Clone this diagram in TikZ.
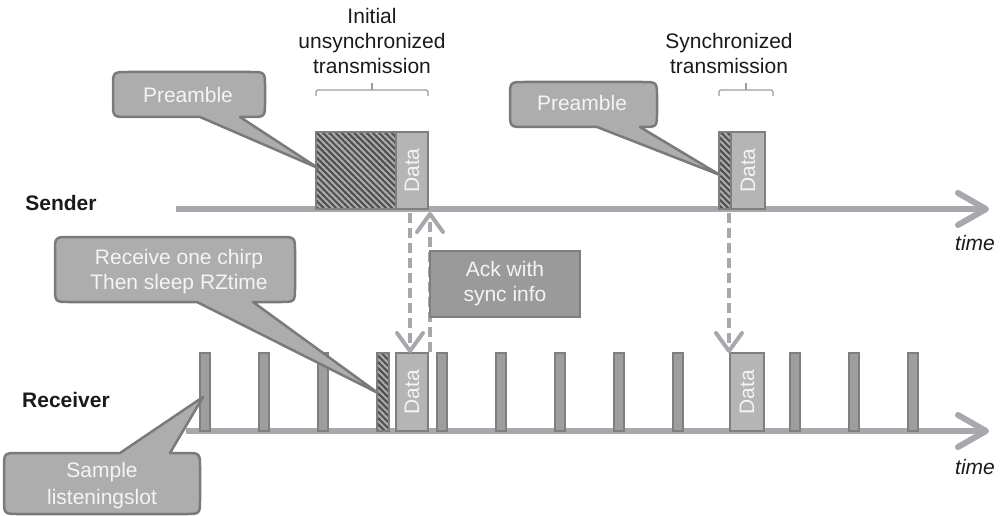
\documentclass[tikz,border=0pt]{standalone}
\usepackage{fontspec}
\setmainfont{Liberation Sans}
\usetikzlibrary{arrows.meta,patterns.meta,calc}

\definecolor{axisgray}{HTML}{A6A8AB}
\definecolor{boxborder}{HTML}{7F7F7F}
\definecolor{datafill}{HTML}{B5B5B5}
\definecolor{slotfill}{HTML}{9E9E9E}
\definecolor{callfill}{HTML}{ADADAD}
\definecolor{callborder}{HTML}{7A7A7A}
\definecolor{ackfill}{HTML}{9A9A9A}
\definecolor{hatchbg}{HTML}{505050}
\definecolor{hatchline}{HTML}{ADADAD}
\definecolor{txtwhite}{HTML}{F4F4F4}
\definecolor{bracegray}{HTML}{9C9C9C}
\definecolor{txtdark}{HTML}{1A1A1A}

% callout with pointer on the bottom edge: x1 y1 x2 y2 base1 base2 tipx tipy
\newcommand\mybubbleB[8]{%
  \draw[calloutshape] ({(#1+#3)/2},#2) -- ({#3-15},#2) .. controls (#3,#2) .. (#3,{#2+15})
    -- (#3,{#4-15}) .. controls (#3,#4) .. ({#3-15},#4) -- (#6,#4) -- (#7,#8) -- (#5,#4)
    -- ({#1+15},#4) .. controls (#1,#4) .. (#1,{#4-15}) -- (#1,{#2+15})
    .. controls (#1,#2) .. ({#1+15},#2) -- cycle;}
% callout with pointer on the top edge
\newcommand\mybubbleT[8]{%
  \draw[calloutshape] ({(#1+#3)/2},#4) -- ({#1+15},#4) .. controls (#1,#4) .. (#1,{#4-15})
    -- (#1,{#2+15}) .. controls (#1,#2) .. ({#1+15},#2) -- (#5,#2) -- (#7,#8) -- (#6,#2)
    -- ({#3-15},#2) .. controls (#3,#2) .. (#3,{#2+15}) -- (#3,{#4-15})
    .. controls (#3,#4) .. ({#3-15},#4) -- cycle;}

\begin{document}
\begin{tikzpicture}[x=1pt,y=-1pt,
  every node/.style={font=\fontsize{21}{25}\selectfont, inner sep=0pt, outer sep=0pt},
  axisline/.style={draw=axisgray, line width=6pt,
    -{Straight Barb[length=28pt,width=32pt,round]}},
  dasharrow/.style={draw=axisgray, line width=4pt, dash pattern=on 10pt off 5pt,
    -{Straight Barb[length=18pt,width=26pt,round]}},
  box/.style={draw=boxborder, line width=2pt, anchor=north west, minimum height=77pt},
  databox/.style={box, fill=datafill},
  hatchbox/.style={box, preaction={fill=hatchbg},
    pattern={Lines[angle=-45,distance=4.4pt,line width=2pt]}, pattern color=hatchline},
  slot/.style={draw=boxborder, line width=2pt, fill=slotfill, anchor=north west,
    minimum width=10pt, minimum height=78pt},
  datalbl/.style={rotate=90, text=txtwhite},
  calloutshape/.style={draw=callborder, fill=callfill, line width=2.5pt, line join=round},
  callouttext/.style={text=txtwhite, align=center},
  rowlabel/.style={text=txtdark, font=\fontsize{21}{25}\selectfont\bfseries},
  timelabel/.style={text=txtdark, font=\fontsize{21}{25}\selectfont\itshape},
  headtext/.style={text=txtdark, align=center, font=\fontsize{21}{25}\selectfont},
  bracestyle/.style={draw=bracegray, line width=1.2pt, rounded corners=2pt},
]
\useasboundingbox (0,0) rectangle (1006,516);

% axes
\coordinate (sa0) at (176,209);
\coordinate (sa1) at (989,209);
\coordinate (ra0) at (186,431);
\coordinate (ra1) at (989,431);
\draw[axisline] (sa0) -- (sa1);
\draw[axisline] (ra0) -- (ra1);

% labels
\node[rowlabel] (sender) at (61,203) {Sender};
\node[rowlabel] (receiver) at (66,400) {Receiver};
\node[timelabel] (time1) at (975,243) {time};
\node[timelabel] (time2) at (975,467) {time};

% sender boxes
\node[hatchbox, minimum width=80pt] (sp1) at (316,132) {};
\node[databox, minimum width=32pt] (sd1) at (396,132) {};
\node[datalbl] at (sd1.center) {Data};
\node[hatchbox, minimum width=12pt] (sp2) at (719,132) {};
\node[databox, minimum width=34pt] (sd2) at (731,132) {};
\node[datalbl] at (sd2.center) {Data};

% receiver slots
\foreach \x [count=\i] in {200,259,318,437,496,555,614,673,790,849,908}
  \node[slot] (s\i) at (\x,353) {};
\node[hatchbox, minimum width=12pt, minimum height=78pt] (rp) at (377,353) {};
\node[databox, minimum width=32pt, minimum height=78pt] (rd1) at (396,353) {};
\node[datalbl] at (rd1.center) {Data};
\node[databox, minimum width=34pt, minimum height=78pt] (rd2) at (730,353) {};
\node[datalbl] at (rd2.center) {Data};

% dashed arrows
\draw[dasharrow] ($(sd1.south)+(-2,4)$) -- ($(rd1.north)+(-2,0)$);
\draw[dasharrow] ($(rd1.north east)+(2,-1)$) -- ($(sd1.south east)+(2,3)$);
\draw[dasharrow] ($(sp2.south east)+(-2,4)$) -- ($(rd2.north west)+(-1,0)$);

% ack box
\node[draw=boxborder, fill=ackfill, line width=2pt, minimum width=150pt,
  minimum height=66pt, text=txtwhite, align=center] (ack) at (505,284) {Ack with\\sync info};

% braces and headings
\draw[bracestyle] (316,96) -- (316,90) -- (428,90) -- (428,96);
\draw[bracestyle] (372,90) -- (372,83);
\draw[bracestyle] (719,96) -- (719,90) -- (773,90) -- (773,96);
\draw[bracestyle] (746,90) -- (746,83);
\node[headtext] (h1) at (372,41) {Initial\\unsynchronized\\transmission};
\node[headtext] (h2) at (729,53) {Synchronized\\transmission};

% callouts
\mybubbleB{113}{72}{265}{117}{200}{240}{318}{168}
\node[callouttext] (cA) at (188,95) {Preamble};
\mybubbleB{510}{82}{657}{127}{597}{640}{720}{175}
\node[callouttext] (cB) at (582,103) {Preamble};
\mybubbleB{55}{237}{295}{302}{197}{253}{378}{393}
\node[callouttext] (cC) at (179,272) {Receive one chirp\\Then sleep RZtime};
\mybubbleT{4}{453}{200}{514}{120}{170}{203}{397}
\node[callouttext, font=\fontsize{21}{27}\selectfont] (cD) at (102,486) {Sample\\listeningslot};
\end{tikzpicture}
\end{document}
